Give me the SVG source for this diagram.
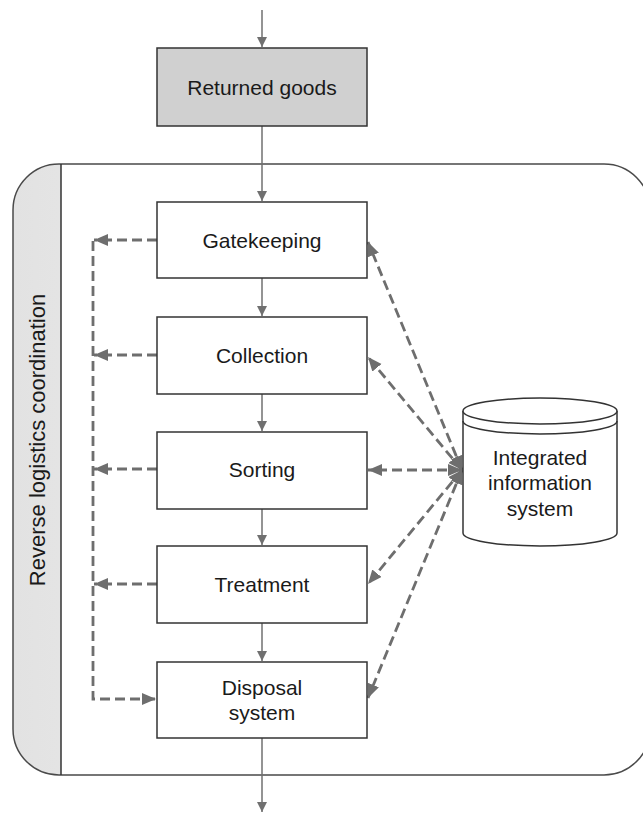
<svg xmlns="http://www.w3.org/2000/svg" width="643" height="814" viewBox="0 0 643 814">
  <defs>
    <style>
      .box { fill: #ffffff; stroke: #333333; stroke-width: 1.5; }
      .lbl { font-family: "Liberation Sans", Arial, sans-serif; font-size: 21px; fill: #1a1a1a; text-anchor: middle; }
      .flow { fill: none; stroke: #707070; stroke-width: 1.5; }
      .dash { fill: none; stroke: #6e6e6e; stroke-width: 2.8; stroke-dasharray: 10 5; }
    </style>
    <marker id="solidHead" markerUnits="userSpaceOnUse" markerWidth="12" markerHeight="12" refX="10" refY="5" orient="auto">
      <path d="M0,0 L10,5 L0,10 z" fill="#707070"/>
    </marker>
    <marker id="dashHead" markerUnits="userSpaceOnUse" markerWidth="16" markerHeight="14" refX="14" refY="6" orient="auto-start-reverse">
      <path d="M0,0 L14,6 L0,12 z" fill="#6e6e6e"/>
    </marker>
    <linearGradient id="stripShade" x1="0" y1="0" x2="1" y2="0">
      <stop offset="0" stop-color="#e2e2e2"/>
      <stop offset="0.5" stop-color="#f0f0f0"/>
      <stop offset="1" stop-color="#fcfcfc"/>
    </linearGradient>
    <clipPath id="stripClip">
      <rect x="13" y="164" width="48" height="611"/>
    </clipPath>
  </defs>

  <!-- coordination frame -->
  <g id="coordination">
    <rect x="13" y="164" width="637" height="611" rx="46" ry="46" fill="#ffffff"/>
    <rect x="13" y="164" width="637" height="611" rx="46" ry="46" fill="url(#stripShade)" clip-path="url(#stripClip)"/>
    <rect x="13" y="164" width="637" height="611" rx="46" ry="46" fill="none" stroke="#4a4a4a" stroke-width="1.5"/>
    <line x1="61" y1="164" x2="61" y2="775" stroke="#333333" stroke-width="1.5"/>
    <text class="lbl" transform="translate(45,440) rotate(-90)" x="0" y="0" style="font-size:22px">Reverse logistics coordination</text>
  </g>

  <!-- connectors -->
  <g id="connectors">
    <line class="flow" x1="262" y1="10" x2="262" y2="47" marker-end="url(#solidHead)"/>
    <line class="flow" x1="262" y1="126" x2="262" y2="201" marker-end="url(#solidHead)"/>
    <line class="flow" x1="262" y1="278" x2="262" y2="316" marker-end="url(#solidHead)"/>
    <line class="flow" x1="262" y1="394" x2="262" y2="431" marker-end="url(#solidHead)"/>
    <line class="flow" x1="262" y1="509" x2="262" y2="545" marker-end="url(#solidHead)"/>
    <line class="flow" x1="262" y1="623" x2="262" y2="661" marker-end="url(#solidHead)"/>
    <line class="flow" x1="262" y1="738" x2="262" y2="812" marker-end="url(#solidHead)"/>

    <!-- feedback loop on the left -->
    <line class="dash" x1="157" y1="240" x2="94" y2="240" marker-end="url(#dashHead)"/>
    <line class="dash" x1="157" y1="355" x2="94" y2="355" marker-end="url(#dashHead)"/>
    <line class="dash" x1="157" y1="469" x2="94" y2="469" marker-end="url(#dashHead)"/>
    <line class="dash" x1="157" y1="584" x2="94" y2="584" marker-end="url(#dashHead)"/>
    <path class="dash" d="M93,241 V699 H156" marker-end="url(#dashHead)"/>

    <!-- information exchange with the information system -->
    <line class="dash" x1="462" y1="470" x2="368" y2="242" marker-start="url(#dashHead)" marker-end="url(#dashHead)"/>
    <line class="dash" x1="462" y1="470" x2="368" y2="357" marker-start="url(#dashHead)" marker-end="url(#dashHead)"/>
    <line class="dash" x1="462" y1="470" x2="368" y2="470" marker-start="url(#dashHead)" marker-end="url(#dashHead)"/>
    <line class="dash" x1="462" y1="470" x2="368" y2="584" marker-start="url(#dashHead)" marker-end="url(#dashHead)"/>
    <line class="dash" x1="462" y1="470" x2="368" y2="698" marker-start="url(#dashHead)" marker-end="url(#dashHead)"/>
  </g>

  <g id="returned-goods">
    <rect x="157" y="48" width="210" height="78" fill="#d0d0d0" stroke="#333333" stroke-width="1.5"/>
    <text class="lbl" x="262" y="94.5">Returned goods</text>
  </g>

  <g id="gatekeeping">
    <rect class="box" x="157" y="202" width="210" height="76"/>
    <text class="lbl" x="262" y="247.5">Gatekeeping</text>
  </g>

  <g id="collection">
    <rect class="box" x="157" y="317" width="210" height="77"/>
    <text class="lbl" x="262" y="362.5">Collection</text>
  </g>

  <g id="sorting">
    <rect class="box" x="157" y="432" width="210" height="77"/>
    <text class="lbl" x="262" y="477">Sorting</text>
  </g>

  <g id="treatment">
    <rect class="box" x="157" y="546" width="210" height="77"/>
    <text class="lbl" x="262" y="591.5">Treatment</text>
  </g>

  <g id="disposal">
    <rect class="box" x="157" y="662" width="210" height="76"/>
    <text class="lbl" x="262" y="694.5">Disposal</text>
    <text class="lbl" x="262" y="719.5">system</text>
  </g>

  <g id="information-system">
    <path d="M463,411 V533 A77,13 0 0 0 617,533 V411" fill="#ffffff" stroke="#333333" stroke-width="1.5"/>
    <ellipse cx="540" cy="411" rx="77" ry="13" fill="#ffffff" stroke="#333333" stroke-width="1.5"/>
    <path d="M463,421 A77,13 0 0 0 617,421" fill="none" stroke="#333333" stroke-width="1.5"/>
    <text class="lbl" x="540" y="464.5">Integrated</text>
    <text class="lbl" x="540" y="490">information</text>
    <text class="lbl" x="540" y="515.5">system</text>
  </g>
</svg>
